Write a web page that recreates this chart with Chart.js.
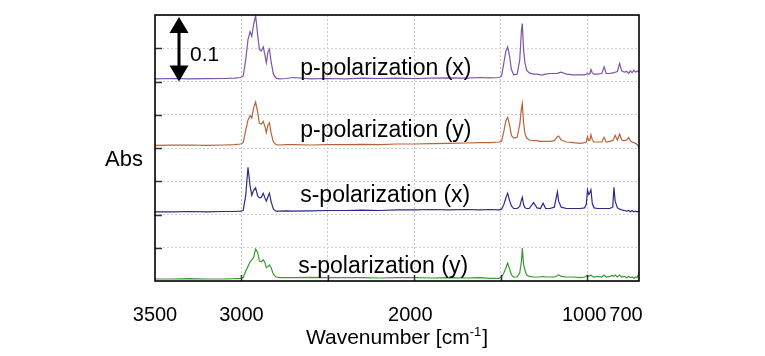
<!DOCTYPE html>
<html><head><meta charset="utf-8">
<script src="https://cdn.jsdelivr.net/npm/chart.js@4/dist/chart.umd.min.js"></script>
<style>html,body{margin:0;padding:0;background:#fff}canvas{display:block}</style>
</head><body>
<canvas id="c" width="765" height="356"></canvas>
<script>
// ---- data ----
const wavenumbers = [3500,3400,3300,3200,3100,3040,3005,2990,2975,2962,
 2950,2940,2930,2918,2906,2896,2885,2874,2864,2856,
 2846,2838,2828,2815,2800,2780,2740,2700,2600,2500,
 2400,2300,2200,2100,2000,1900,1800,1700,1620,1560,
 1510,1495,1482,1470,1460,1450,1438,1425,1405,1390,
 1380,1375,1368,1360,1350,1335,1310,1290,1270,1255,
 1240,1215,1190,1172,1165,1150,1120,1080,1040,1015,
 1005,998,990,984,978,970,960,940,915,902,
 890,870,852,845,838,825,812,800,785,770,
 760,750,740,730,720,710,700];

const pX = [0.004,0.0045,0.004,0.0042,0.0045,0.005,0.006,0.008,0.033,0.063,
 0.075,0.068,0.085,0.099,0.070,0.048,0.046,0.052,0.040,0.028,
 0.045,0.049,0.029,0.011,0.005,0.004,0.0045,0.006,0.004,0.0045,
 0.004,0.005,0.0045,0.005,0.0045,0.005,0.0055,0.005,0.006,0.0055,
 0.006,0.008,0.028,0.046,0.052,0.040,0.018,0.010,0.011,0.032,
 0.077,0.087,0.048,0.028,0.017,0.013,0.011,0.011,0.010,0.010,
 0.011,0.012,0.012,0.012,0.013,0.014,0.011,0.010,0.010,0.010,
 0.011,0.012,0.011,0.012,0.018,0.013,0.011,0.011,0.012,0.022,
 0.012,0.012,0.013,0.013,0.014,0.015,0.027,0.016,0.014,0.015,
 0.012,0.016,0.013,0.017,0.014,0.016,0.015];

const pY = [0.004,0.0042,0.0045,0.004,0.0045,0.005,0.006,0.008,0.027,0.042,
 0.049,0.045,0.060,0.069,0.054,0.037,0.036,0.040,0.032,0.023,
 0.035,0.038,0.022,0.009,0.005,0.0045,0.005,0.005,0.0045,0.005,
 0.005,0.0055,0.005,0.006,0.006,0.0065,0.007,0.0075,0.008,0.008,
 0.009,0.010,0.025,0.041,0.046,0.036,0.019,0.015,0.016,0.035,
 0.060,0.067,0.039,0.022,0.015,0.012,0.011,0.011,0.010,0.010,
 0.010,0.010,0.011,0.017,0.018,0.012,0.009,0.008,0.007,0.008,
 0.009,0.017,0.011,0.012,0.020,0.012,0.009,0.009,0.009,0.016,
 0.009,0.010,0.011,0.014,0.019,0.012,0.021,0.012,0.011,0.012,
 0.016,0.011,0.009,0.008,0.007,0.005,0.001];

const sX = [0.004,0.004,0.0045,0.004,0.0045,0.0045,0.005,0.006,0.029,0.071,
 0.043,0.029,0.036,0.040,0.028,0.025,0.026,0.032,0.025,0.020,
 0.027,0.032,0.019,0.008,0.005,0.005,0.0055,0.005,0.0055,0.006,
 0.006,0.0065,0.006,0.007,0.007,0.0075,0.007,0.0075,0.007,0.0075,
 0.007,0.008,0.015,0.025,0.032,0.022,0.013,0.009,0.009,0.012,
 0.022,0.026,0.015,0.010,0.009,0.009,0.018,0.010,0.009,0.017,
 0.009,0.009,0.011,0.034,0.020,0.011,0.009,0.009,0.009,0.010,
 0.015,0.037,0.030,0.033,0.037,0.016,0.010,0.009,0.009,0.009,
 0.009,0.009,0.011,0.041,0.020,0.010,0.008,0.007,0.006,0.005,
 0.006,0.004,0.006,0.004,0.005,0.004,0.005];

const sY = [0.003,0.003,0.0035,0.003,0.003,0.0035,0.004,0.005,0.015,0.022,
 0.0286,0.0316,0.035,0.048,0.043,0.030,0.029,0.032,0.028,0.020,
 0.022,0.024,0.020,0.010,0.006,0.005,0.005,0.005,0.0055,0.005,
 0.005,0.005,0.0045,0.005,0.005,0.0045,0.005,0.0045,0.005,0.004,
 0.004,0.006,0.012,0.0195,0.027,0.0195,0.009,0.006,0.006,0.012,
 0.030,0.0496,0.025,0.0165,0.009,0.007,0.006,0.006,0.006,0.007,
 0.006,0.006,0.006,0.008,0.009,0.007,0.006,0.006,0.005,0.006,
 0.007,0.009,0.007,0.008,0.009,0.007,0.006,0.007,0.006,0.009,
 0.006,0.007,0.008,0.007,0.009,0.006,0.009,0.006,0.007,0.005,
 0.007,0.005,0.006,0.004,0.006,0.005,0.013];

const seriesNames = ['p-polarization (x)','p-polarization (y)','s-polarization (x)','s-polarization (y)'];
const offsets = [0.3, 0.2, 0.1, 0];
const xTickLabels = [3500, 3000, 2000, 1000, 700];
const xGridValues = [3000, 2500, 2000, 1500, 1000];
const scaleBarValue = 0.1;
const scaleBarLabel = '0.1';
const yTitle = 'Abs';
const xTitle = 'Wavenumber [cm';

// ---- chart ----
const FONT = '"Liberation Sans", Arial, Helvetica, sans-serif';
const colors = ['#7b55ad', '#b8633b', '#2b2a88', '#3b9a36'];
const series = [pX, pY, sX, sY];

const datasets = series.map((vals, i) => ({
  label: seriesNames[i],
  data: wavenumbers.map((w, j) => ({ x: w, y: vals[j] + offsets[i] })),
  borderColor: colors[i],
  borderWidth: 1.2,
  pointRadius: 0,
  tension: 0,
  fill: false
}));

// label anchors in data coordinates (wavenumber, absorbance)
const labelAnchors = [[2660, 0.31], [2660, 0.2165], [2660, 0.119], [2672, 0.012]];
const tickLabelShift = {3500: 0, 3000: 0, 2000: -4, 1000: -3, 700: -13};

const decor = {
  id: 'decor',
  afterDatasetsDraw(chart) {
    const { ctx, chartArea: a, scales: { x, y } } = chart;
    ctx.save();
    // inner tick marks
    ctx.strokeStyle = '#333';
    ctx.lineWidth = 1.5;
    xGridValues.forEach(v => {
      const px = Math.round(x.getPixelForValue(v)) + 0.5;
      ctx.beginPath(); ctx.moveTo(px, a.bottom); ctx.lineTo(px, a.bottom - 6); ctx.stroke();
    });
    y.ticks.forEach(t => {
      if (t.value <= 0 || t.value >= 0.4 - 1e-9) return;
      const py = Math.round(y.getPixelForValue(t.value)) + 0.5;
      ctx.beginPath(); ctx.moveTo(a.left, py); ctx.lineTo(a.left + 7, py); ctx.stroke();
    });
    // frame
    ctx.strokeStyle = '#000';
    ctx.lineWidth = 1.6;
    ctx.strokeRect(a.left, a.top, a.right - a.left, a.bottom - a.top);

    ctx.fillStyle = '#000';
    // series labels
    ctx.font = '23px ' + FONT;
    ctx.textAlign = 'left';
    ctx.textBaseline = 'alphabetic';
    seriesNames.forEach((n, i) => {
      ctx.fillText(n, x.getPixelForValue(labelAnchors[i][0]), y.getPixelForValue(labelAnchors[i][1]));
    });

    // scale bar arrow
    const ax = a.left + 24;
    const yb = y.getPixelForValue(offsets[0]);
    const yt = y.getPixelForValue(offsets[0] + scaleBarValue) + 2;
    const hw = 9.5, hh = 16;
    ctx.lineWidth = 3;
    ctx.beginPath(); ctx.moveTo(ax, yt + hh - 1); ctx.lineTo(ax, yb - hh + 1); ctx.stroke();
    ctx.beginPath(); ctx.moveTo(ax, yt); ctx.lineTo(ax - hw, yt + hh); ctx.lineTo(ax + hw, yt + hh); ctx.closePath(); ctx.fill();
    ctx.beginPath(); ctx.moveTo(ax, yb); ctx.lineTo(ax - hw, yb - hh); ctx.lineTo(ax + hw, yb - hh); ctx.closePath(); ctx.fill();
    ctx.font = '21px ' + FONT;
    ctx.fillText(scaleBarLabel, ax + 11, (yt + yb) / 2 + 12);

    // y title
    ctx.font = '22px ' + FONT;
    ctx.textAlign = 'right';
    ctx.fillText(yTitle, a.left - 12, (a.top + a.bottom) / 2 + 18);

    // x tick labels
    ctx.font = '20px ' + FONT;
    ctx.textAlign = 'center';
    xTickLabels.forEach(v => {
      ctx.fillText(String(v), x.getPixelForValue(v) + (tickLabelShift[v] || 0), a.bottom + 40);
    });

    // x title with superscript
    ctx.textAlign = 'left';
    ctx.font = '21px ' + FONT;
    const w1 = ctx.measureText(xTitle).width;
    const w3 = ctx.measureText(']').width;
    ctx.font = '13px ' + FONT;
    const w2 = ctx.measureText('-1').width;
    const total = w1 + w2 + w3 + 1;
    let sx = (a.left + a.right) / 2 - total / 2;
    const by = a.bottom + 63;
    ctx.font = '21px ' + FONT;
    ctx.fillText(xTitle, sx, by);
    ctx.font = '13px ' + FONT;
    ctx.fillText('-1', sx + w1, by - 8);
    ctx.font = '21px ' + FONT;
    ctx.fillText(']', sx + w1 + w2 + 1, by);
    ctx.restore();
  }
};

new Chart(document.getElementById('c'), {
  type: 'line',
  data: { datasets },
  options: {
    responsive: false,
    animation: false,
    devicePixelRatio: 1,
    layout: { padding: { left: 155, right: 126, top: 15, bottom: 75 } },
    plugins: { legend: { display: false }, tooltip: { enabled: false } },
    scales: {
      x: {
        type: 'linear', reverse: true, min: 700, max: 3500,
        afterBuildTicks: s => { s.ticks = xGridValues.map(v => ({ value: v })); },
        ticks: { display: false },
        grid: { color: '#c8c8c8', lineWidth: 1, drawTicks: false },
        border: { display: false, dash: [2, 2] },
        afterFit: s => { s.height = 0; }
      },
      y: {
        min: 0, max: 0.4,
        ticks: { display: false, stepSize: 0.05 },
        grid: { color: '#d2d2d2', lineWidth: 1, drawTicks: false },
        border: { display: false, dash: [2, 2] },
        afterFit: s => { s.width = 0; }
      }
    }
  },
  plugins: [decor]
});
</script>
</body></html>
